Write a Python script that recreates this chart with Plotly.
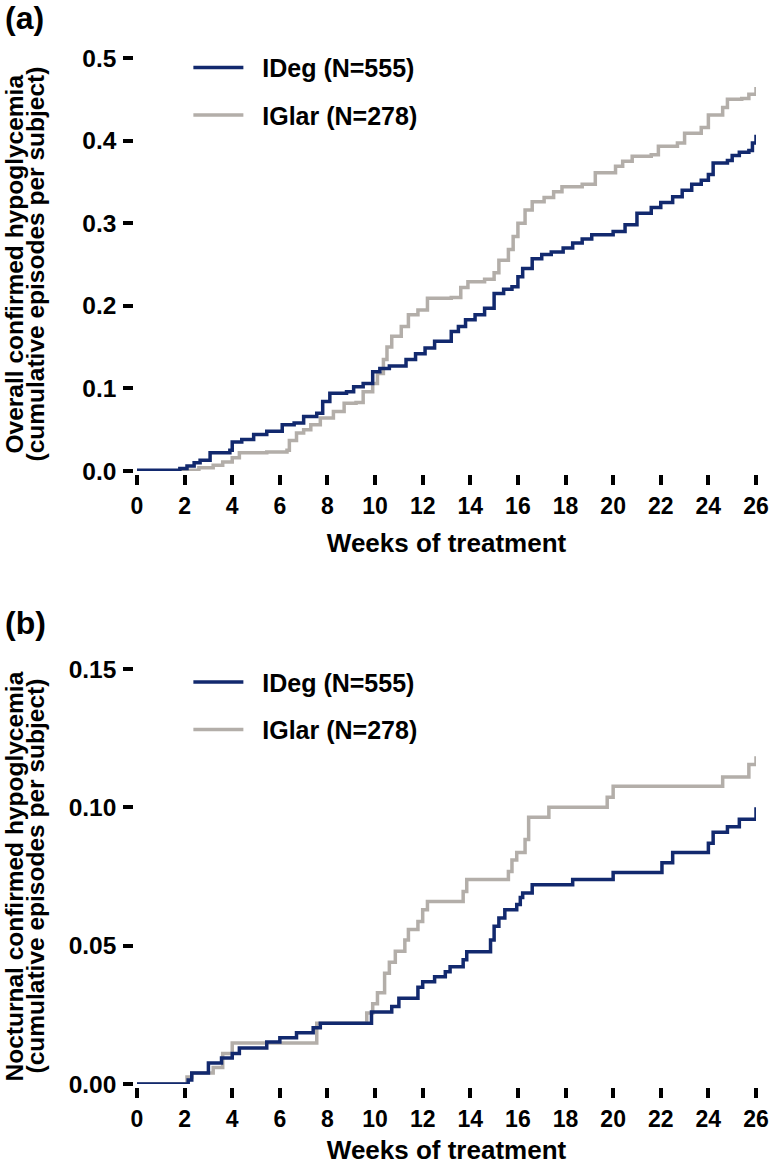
import plotly.graph_objects as go

# ---------------- data ----------------
weeks_ideg_a = [0, 1.8, 2.1, 2.4, 2.65, 3.07, 3.9, 4.0, 4.4, 4.9, 5.45, 6.1, 6.6, 7.0, 7.55, 7.8, 8.1, 8.8,
                9.1, 9.5, 9.9, 10.2, 10.6, 11.3, 11.7, 12.1, 12.5, 13.2, 13.5, 13.8, 14.2, 14.6, 15.0, 15.4,
                15.75, 16.0, 16.2, 16.6, 17.0, 17.4, 17.9, 18.3, 18.7, 19.1, 20.0, 20.5, 21.0, 21.6, 22.0,
                22.5, 22.9, 23.3, 23.7, 24.0, 24.2, 24.8, 25.0, 25.3, 25.7, 25.85, 26.0]
vals_ideg_a = [0.001, 0.003, 0.006, 0.010, 0.013, 0.022, 0.025, 0.035, 0.038, 0.044, 0.048, 0.056, 0.058,
               0.066, 0.070, 0.084, 0.094, 0.096, 0.102, 0.106, 0.120, 0.124, 0.127, 0.135, 0.142, 0.149,
               0.157, 0.169, 0.175, 0.183, 0.189, 0.197, 0.215, 0.220, 0.223, 0.235, 0.245, 0.257, 0.262,
               0.265, 0.270, 0.276, 0.281, 0.286, 0.290, 0.298, 0.312, 0.319, 0.325, 0.332, 0.340, 0.347,
               0.352, 0.359, 0.373, 0.376, 0.382, 0.386, 0.388, 0.397, 0.407]

weeks_iglar_a = [0, 2.0, 2.6, 3.2, 3.6, 4.0, 4.3, 5.45, 6.3, 6.4, 6.7, 7.0, 7.3, 7.7, 8.25, 8.7, 9.2, 9.5,
                 9.9, 10.1, 10.35, 10.5, 10.7, 11.1, 11.4, 11.8, 12.2, 13.2, 13.6, 13.9, 14.6, 15.0, 15.2,
                 15.6, 15.8, 16.0, 16.3, 16.6, 17.1, 17.5, 17.85, 18.7, 19.25, 20.1, 20.4, 20.8, 21.6, 21.9,
                 22.7, 23.0, 23.7, 24.0, 24.6, 24.8, 25.4, 25.7, 26.0]
vals_iglar_a = [0.0, 0.001, 0.004, 0.007, 0.011, 0.016, 0.022, 0.023, 0.025, 0.037, 0.046, 0.050, 0.056,
                0.064, 0.072, 0.082, 0.083, 0.096, 0.106, 0.118, 0.135, 0.150, 0.163, 0.175, 0.189, 0.195,
                0.209, 0.210, 0.222, 0.229, 0.232, 0.240, 0.255, 0.268, 0.284, 0.300, 0.316, 0.326, 0.331,
                0.338, 0.344, 0.347, 0.361, 0.369, 0.375, 0.381, 0.383, 0.393, 0.397, 0.409, 0.416, 0.431,
                0.440, 0.450, 0.451, 0.456, 0.465]

weeks_ideg_b = [0, 2.15, 2.3, 3.0, 3.55, 4.0, 4.3, 5.45, 6.0, 6.7, 7.4, 7.7, 9.85, 10.7, 11.0, 11.8, 12.0,
                12.5, 12.95, 13.15, 13.7, 13.85, 14.85, 15.0, 15.2, 15.45, 15.95, 16.1, 16.2, 16.6, 18.3,
                20.0, 22.05, 22.5, 24.0, 24.2, 24.8, 25.3, 26.0]
vals_ideg_b = [0.0, 0.0014, 0.004, 0.0076, 0.0094, 0.011, 0.013, 0.0152, 0.0167, 0.0185, 0.0203, 0.022,
               0.026, 0.028, 0.031, 0.035, 0.037, 0.0388, 0.0406, 0.0424, 0.0449, 0.0478, 0.052, 0.057,
               0.060, 0.063, 0.0649, 0.0674, 0.069, 0.072, 0.0739, 0.0764, 0.080, 0.0837, 0.087, 0.091,
               0.093, 0.0957, 0.100]

weeks_iglar_b = [0, 2.1, 2.3, 3.2, 3.6, 4.0, 7.55, 9.65, 9.9, 10.1, 10.4, 10.6, 10.85, 11.25, 11.4, 11.8,
                 12.0, 12.2, 13.7, 13.85, 15.6, 15.75, 15.95, 16.3, 16.45, 17.3, 19.75, 20.0, 24.6, 25.7, 26.0]
vals_iglar_b = [0.0, 0.0025, 0.004, 0.006, 0.011, 0.0148, 0.022, 0.0257, 0.029, 0.033, 0.040, 0.044, 0.048,
                0.052, 0.0558, 0.0587, 0.063, 0.066, 0.0696, 0.0739, 0.0768, 0.081, 0.0837, 0.0884, 0.0964,
                0.100, 0.1036, 0.1076, 0.111, 0.1155, 0.1185]

series_names = ["IDeg (N=555)", "IGlar (N=278)"]
x_ticks = list(range(0, 27, 2))

# ---------------- styling ----------------
NAVY = "#12296e"
GRAY = "#b3aea9"
FONT = "Liberation Sans, Arial, Helvetica, sans-serif"
LW = 3.5
PAD = "\u00a0\u00a0"  # visual gap between legend key and label

fig = go.Figure()

def add_pair(xa, ya, legend, wk_ideg, v_ideg, wk_iglar, v_iglar):
    fig.add_trace(go.Scatter(x=wk_ideg, y=v_ideg, mode="lines", line=dict(color=NAVY, width=LW, shape="hv"),
                             name=PAD + series_names[0], xaxis=xa, yaxis=ya, legend=legend,
                             legendgroup=legend + "g1", zorder=2, showlegend=True))
    fig.add_trace(go.Scatter(x=wk_iglar, y=v_iglar, mode="lines", line=dict(color=GRAY, width=LW, shape="hv"),
                             name=PAD + series_names[1], xaxis=xa, yaxis=ya, legend=legend,
                             legendgroup=legend + "g2", zorder=1, showlegend=True))

add_pair("x", "y", "legend", weeks_ideg_a, vals_ideg_a, weeks_iglar_a, vals_iglar_a)
add_pair("x2", "y2", "legend2", weeks_ideg_b, vals_ideg_b, weeks_iglar_b, vals_iglar_b)

axis_common = dict(showgrid=False, zeroline=False, showline=True, linewidth=3.5, linecolor="black",
                   ticks="outside", ticklen=10, tickwidth=3.5, tickcolor="black", mirror=False,
                   automargin=False)

xcommon = dict(axis_common, range=[0, 26], tickvals=x_ticks, ticklabelstandoff=2,
               tickfont=dict(size=23, color="black", family=FONT, weight="bold"),
               title=dict(text="Weeks of treatment", font=dict(size=26, color="black", family=FONT, weight="bold"),
                          standoff=16))
ycommon = dict(axis_common, ticklabelstandoff=2,
               tickfont=dict(size=24.5, color="black", family=FONT, weight="bold"))

legend_common = dict(xanchor="left", yanchor="top", bgcolor="rgba(0,0,0,0)",
                     font=dict(size=25, family=FONT, color="black", weight="bold"),
                     tracegroupgap=12, itemwidth=50)

fig.update_layout(
    width=770, height=1165,
    margin=dict(l=137, r=14, t=58, b=81, autoexpand=False),
    paper_bgcolor="white", plot_bgcolor="white",
    font=dict(family=FONT, color="black", weight="bold"),
    xaxis=dict(xcommon, domain=[0, 1], anchor="y"),
    yaxis=dict(ycommon, domain=[0.5975, 1], anchor="x", range=[0, 0.5], dtick=0.1, tickformat=".1f"),
    xaxis2=dict(xcommon, domain=[0, 1], anchor="y2"),
    yaxis2=dict(ycommon, domain=[0, 0.4045], anchor="x2", range=[0, 0.15], dtick=0.05, tickformat=".2f"),
    legend=dict(legend_common, x=0.083, y=1.013),
    legend2=dict(legend_common, x=0.083, y=0.414),
)

ylab_font = dict(size=24.5, family=FONT, color="black", weight="bold")
title_lines = [
    ("y domain", "Overall confirmed hypoglycemia", "(cumulative episodes per subject)"),
    ("y2 domain", "Nocturnal confirmed hypoglycemia", "(cumulative episodes per subject)"),
]
for yref, l1, l2 in title_lines:
    fig.add_annotation(text=l1, textangle=-90, xref="paper", x=(14 - 137) / 619, yref=yref, y=0.5,
                       xanchor="center", yanchor="middle", showarrow=False, font=ylab_font)
    fig.add_annotation(text=l2, textangle=-90, xref="paper", x=(35 - 137) / 619, yref=yref, y=0.5,
                       xanchor="center", yanchor="middle", showarrow=False, font=ylab_font)

panel_font = dict(size=32, family=FONT, color="black", weight="bold")
fig.add_annotation(text="(a)", xref="paper", yref="paper", x=(3 - 137) / 619, y=(1084 - 18) / 1026,
                   xanchor="left", yanchor="middle", showarrow=False, font=panel_font)
fig.add_annotation(text="(b)", xref="paper", yref="paper", x=(3 - 137) / 619, y=(1084 - 623) / 1026,
                   xanchor="left", yanchor="middle", showarrow=False, font=panel_font)

fig.write_html("out.html", config={"displayModeBar": False},
               post_script="document.body.style.margin='0';")
